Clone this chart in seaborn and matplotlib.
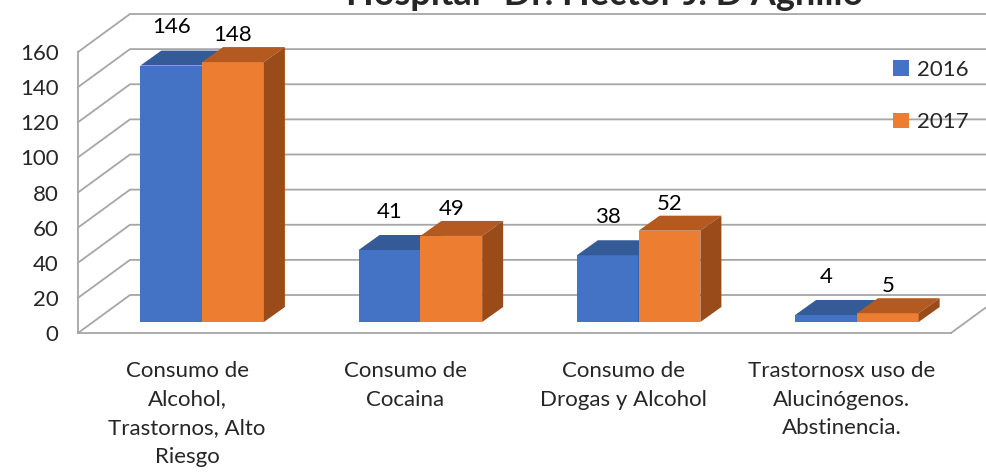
import numpy as np
import pandas as pd
import matplotlib
matplotlib.use("Agg")
import matplotlib.pyplot as plt
from matplotlib.patches import Polygon
from matplotlib.transforms import offset_copy
import seaborn as sns

# ── data ────────────────────────────────────────────────────────────────────
categories = ["Consumo de\nAlcohol,\nTrastornos, Alto\nRiesgo",
              "Consumo de\nCocaina",
              "Consumo de\nDrogas y Alcohol",
              "Trastornosx uso de\nAlucinógenos.\nAbstinencia."]
years = ["2016", "2017"]
values_2016 = [146, 41, 38, 4]
values_2017 = [148, 49, 52, 5]
y_ticks = [0, 20, 40, 60, 80, 100, 120, 140, 160]
title = 'Hospital "Dr. Héctor J. D\'Agnillo"'

df = pd.DataFrame({
    "cat": categories * 2,
    "year": [years[0]] * 4 + [years[1]] * 4,
    "value": values_2016 + values_2017,
})

# ── style ───────────────────────────────────────────────────────────────────
sns.set_style("white")
plt.rcParams["font.family"] = ["Lato", "DejaVu Sans"]

front = {"2016": "#4472C4", "2017": "#ED7D31"}
top_c = {"2016": "#345A97", "2017": "#B4591F"}
side_c = {"2016": "#2B4C80", "2017": "#9A4B1A"}
grid_c = "#A6A6A6"

W, H = 987, 473
fig = plt.figure(figsize=(W / 100, H / 100), dpi=100)
ax_l, ax_r, ax_t, ax_b = 78, 951, 52, 333
ax = fig.add_axes([ax_l / W, (H - ax_b) / H, (ax_r - ax_l) / W, (ax_b - ax_t) / H])

bar_w = 0.283
sns.barplot(data=df, x="cat", y="value", hue="year", palette=front,
            width=2 * bar_w, gap=0, ax=ax, saturation=1, legend=True,
            edgecolor="none", linewidth=0)
ax.set_xlim(-0.5, 3.5)
ax.set_ylim(0, 160)

# pixel scale of the front plane
sx = (ax_r - ax_l) / 4
sy = (ax_b - ax_t) / 160

# plane of the bars (pushed back into the "depth")
bar_tr = offset_copy(ax.transData, fig=fig, x=15, y=11, units="dots")
ddx, ddy = 21 / sx, 15 / sy        # depth of the bars
bdx, bdy = 52 / sx, 38 / sy        # depth of the back wall

# back wall + floor
for v in y_ticks:
    ax.plot([-0.5, -0.5 + bdx, 3.5 + bdx + 1], [v, v + bdy, v + bdy],
            color=grid_c, lw=1.3, zorder=0.5, clip_on=False)
ax.plot([3.5, 3.5 + bdx], [0, bdy], color=grid_c, lw=1.3, zorder=0.5, clip_on=False)

# turn the flat bars into boxes
for i, cont in enumerate(ax.containers):
    yr = years[i]
    for p in cont.patches:
        p.set_transform(bar_tr)
        p.set_zorder(2 + i)
        x0, w, h = p.get_x(), p.get_width(), p.get_height()
        x1 = x0 + w
        top = Polygon([(x0, h), (x1, h), (x1 + ddx, h + ddy), (x0 + ddx, h + ddy)],
                      closed=True, facecolor=top_c[yr], edgecolor="none",
                      transform=bar_tr, zorder=2 + i + 0.1, clip_on=False)
        side = Polygon([(x1, 0), (x1, h), (x1 + ddx, h + ddy), (x1 + ddx, ddy)],
                       closed=True, facecolor=side_c[yr], edgecolor="none",
                       transform=bar_tr, zorder=2 + i + 0.1, clip_on=False)
        ax.add_patch(top)
        ax.add_patch(side)
        p.set_clip_on(False)
        off = 27.5 if i == 0 else 19.5
        ax.annotate(f"{int(h)}", xy=(x0 + w / 2, h), xycoords=bar_tr,
                    xytext=(0, off), textcoords="offset points",
                    ha="center", va="center", fontsize=16, color="black", zorder=6)

# axes, ticks
for s in ["top", "right"]:
    ax.spines[s].set_visible(False)
for s in ["left", "bottom"]:
    ax.spines[s].set_color(grid_c)
    ax.spines[s].set_linewidth(1.3)
ax.set_yticks(y_ticks)
ax.tick_params(axis="y", length=6, width=1.3, color=grid_c, labelsize=16, pad=8)
ax.set_xticks(range(4))
ax.set_xticklabels(categories, fontsize=16, linespacing=1.55, va="top")
ax.set_xticks([-0.5, 0.5, 1.5, 2.5, 3.5], minor=True)
ax.tick_params(axis="x", which="major", length=0, pad=20)
ax.tick_params(axis="x", which="minor", length=6, width=1.3, color=grid_c)
ax.set_xlabel("")
ax.set_ylabel("")
ax.grid(False)

# legend
sns.move_legend(ax, loc="upper left", bbox_to_anchor=(873 / W, 1 - 40 / H),
                bbox_transform=fig.transFigure, frameon=False, title=None,
                fontsize=16, labelspacing=1.45, handlelength=0.7,
                handleheight=0.7, handletextpad=0.4)

fig.text(612 / W, 1 - 5 / H, title, ha="center", va="baseline",
         fontsize=26, fontweight="bold")

fig.savefig("out.png", dpi=100)
